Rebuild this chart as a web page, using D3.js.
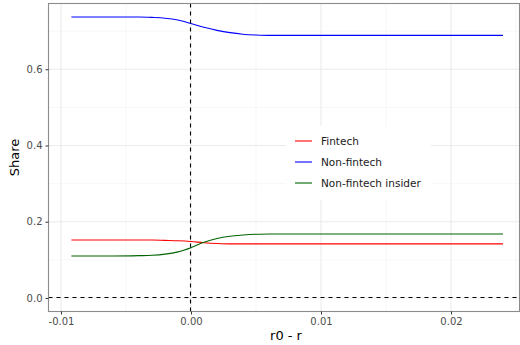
<!DOCTYPE html>
<html>
<head>
<meta charset="utf-8">
<script src="https://cdn.jsdelivr.net/npm/d3@7.9.0/dist/d3.min.js"></script>
<style>
  body { margin: 0; background: #fff; }
  svg { display: block; font-family: "DejaVu Sans", sans-serif; }
</style>
</head>
<body>
<svg id="chart" width="520" height="345"></svg>
<script>
// r0 - r grid
const xs = [-0.0092, -0.008, -0.006, -0.004, -0.003, -0.002, -0.001, 0, 0.001, 0.002,
  0.003, 0.004, 0.005, 0.006, 0.008, 0.01, 0.015, 0.02, 0.024];

const fintech = [0.152, 0.152, 0.152, 0.152, 0.152, 0.151, 0.150, 0.148, 0.145, 0.143,
  0.142, 0.142, 0.142, 0.142, 0.142, 0.142, 0.142, 0.142, 0.142];
const nonFintech = [0.737, 0.737, 0.737, 0.737, 0.736, 0.734, 0.729, 0.720, 0.710, 0.702,
  0.696, 0.692, 0.690, 0.689, 0.689, 0.689, 0.689, 0.689, 0.689];
const insider = [0.110, 0.110, 0.110, 0.111, 0.112, 0.115, 0.121, 0.132, 0.146, 0.156,
  0.162, 0.165, 0.167, 0.168, 0.168, 0.168, 0.168, 0.168, 0.168];

const seriesNames = ['Fintech', 'Non-fintech', 'Non-fintech insider'];
const seriesColors = ['#ff0000', '#0000ff', '#006400'];

const xTicks = [-0.01, 0, 0.01, 0.02];
const xMinor = [-0.005, 0.005, 0.015, 0.025];
const yTicks = [0, 0.2, 0.4, 0.6];
const yMinor = [0.1, 0.3, 0.5, 0.7];

const panel = { left: 48.5, right: 519.5, top: 3.5, bottom: 311.5 };

const x = d3.scaleLinear().domain([-0.01096, 0.02527]).range([panel.left, panel.right]);
const y = d3.scaleLinear().domain([-0.0355, 0.7725]).range([panel.bottom, panel.top]);

const crisp = v => Math.floor(v) + 0.5;

const svg = d3.select('#chart');

// grid
const grid = svg.append('g');
grid.selectAll('.vminor').data(xMinor).join('line')
  .attr('x1', d => x(d)).attr('x2', d => x(d))
  .attr('y1', panel.top).attr('y2', panel.bottom)
  .attr('stroke', '#f2f2f2').attr('stroke-width', 0.6);
grid.selectAll('.hminor').data(yMinor).join('line')
  .attr('y1', d => y(d)).attr('y2', d => y(d))
  .attr('x1', panel.left).attr('x2', panel.right)
  .attr('stroke', '#f2f2f2').attr('stroke-width', 0.6);
grid.selectAll('.vmajor').data(xTicks).join('line')
  .attr('x1', d => x(d)).attr('x2', d => x(d))
  .attr('y1', panel.top).attr('y2', panel.bottom)
  .attr('stroke', '#ebebeb').attr('stroke-width', 1.1);
grid.selectAll('.hmajor').data(yTicks).join('line')
  .attr('y1', d => y(d)).attr('y2', d => y(d))
  .attr('x1', panel.left).attr('x2', panel.right)
  .attr('stroke', '#ebebeb').attr('stroke-width', 1.1);

// series lines
const series = [fintech, nonFintech, insider];
const line = d3.line()
  .x((d, i) => x(xs[i]))
  .y(d => y(d))
  .curve(d3.curveMonotoneX);

series.forEach((vals, idx) => {
  svg.append('path')
    .attr('d', line(vals))
    .attr('fill', 'none')
    .attr('stroke', seriesColors[idx])
    .attr('stroke-width', 1.1);
});

// reference lines
svg.append('line')
  .attr('x1', crisp(x(0))).attr('x2', crisp(x(0)))
  .attr('y1', panel.top).attr('y2', panel.bottom)
  .attr('stroke', '#000').attr('stroke-width', 1.1)
  .attr('stroke-dasharray', '4,4');
svg.append('line')
  .attr('x1', panel.left).attr('x2', panel.right)
  .attr('y1', crisp(y(0))).attr('y2', crisp(y(0)))
  .attr('stroke', '#000').attr('stroke-width', 1.1)
  .attr('stroke-dasharray', '4,4');

// panel border
svg.append('rect')
  .attr('x', panel.left).attr('y', panel.top)
  .attr('width', panel.right - panel.left).attr('height', panel.bottom - panel.top)
  .attr('fill', 'none').attr('stroke', '#8c8c8c').attr('stroke-width', 1.1);

// axes
const xAxis = svg.append('g')
  .attr('transform', `translate(0,${panel.bottom})`)
  .call(d3.axisBottom(x).tickValues(xTicks).tickSize(3).tickPadding(3));
const yAxis = svg.append('g')
  .attr('transform', `translate(${panel.left},0)`)
  .call(d3.axisLeft(y).tickValues(yTicks).tickSize(3).tickPadding(3));

[xAxis, yAxis].forEach(g => {
  g.select('.domain').remove();
  g.selectAll('.tick line').attr('stroke', '#333').attr('stroke-width', 1);
  g.selectAll('.tick text')
    .attr('fill', '#4d4d4d')
    .style('font-size', '10px')
    .style('font-family', '"DejaVu Sans", sans-serif');
});
xAxis.selectAll('.tick text').text(d => d3.format('.2f')(d).replace('\u2212', '-'));
yAxis.selectAll('.tick text').text(d => d3.format('.1f')(d));

// axis titles
svg.append('text')
  .attr('x', (panel.left + panel.right) / 2 + 2)
  .attr('y', 340)
  .attr('text-anchor', 'middle')
  .style('font-size', '13px')
  .attr('fill', '#000')
  .text('r0 - r');
svg.append('text')
  .attr('transform', `translate(19,${(panel.top + panel.bottom) / 2}) rotate(-90)`)
  .attr('text-anchor', 'middle')
  .style('font-size', '13px')
  .attr('fill', '#000')
  .text('Share');

// legend
const legend = svg.append('g').attr('transform', 'translate(286,126)');
legend.append('rect')
  .attr('width', 145).attr('height', 74)
  .attr('fill', '#fff');
seriesNames.forEach((name, idx) => {
  const row = legend.append('g').attr('transform', `translate(0,${15 + idx * 21})`);
  row.append('line')
    .attr('x1', 9).attr('x2', 26)
    .attr('stroke', seriesColors[idx]).attr('stroke-width', 1.1);
  row.append('text')
    .attr('x', 35).attr('y', 0).attr('dy', '0.35em')
    .style('font-size', '10.5px')
    .attr('fill', '#1a1a1a')
    .text(name);
});
</script>
</body>
</html>
